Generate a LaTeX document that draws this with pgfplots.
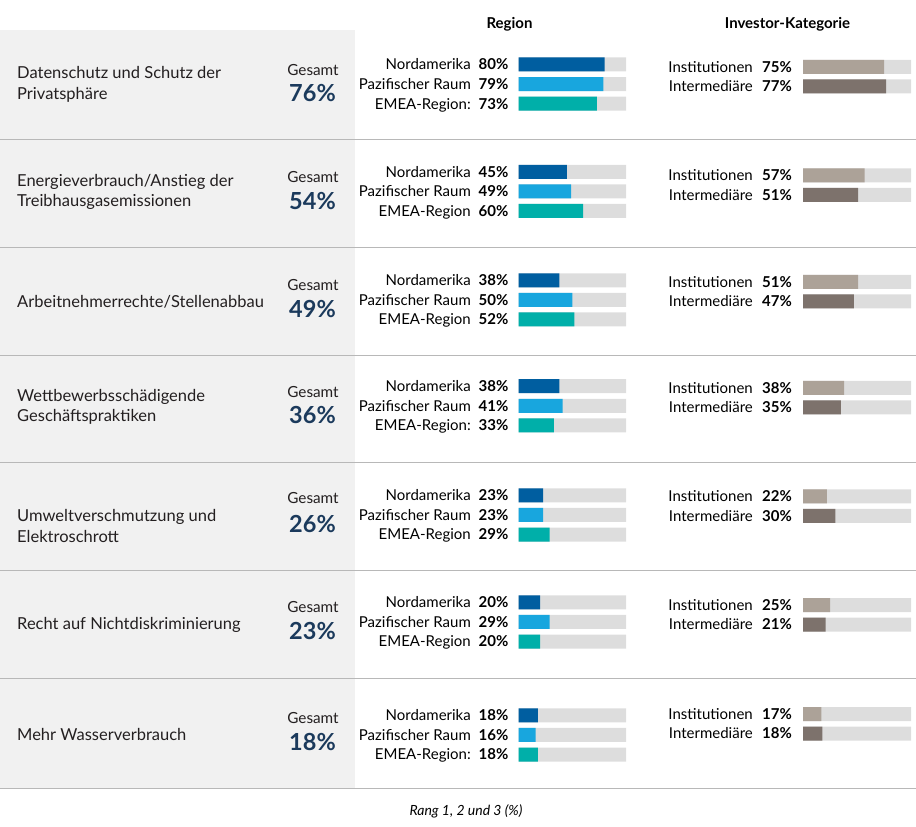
\documentclass[border=0pt]{standalone}
\usepackage{pgfplots}
\pgfplotsset{compat=1.18}
\usepackage{fontspec}
\setmainfont{Lato}
\definecolor{cNA}{HTML}{005EA0}
\definecolor{cPA}{HTML}{18A6DE}
\definecolor{cEM}{HTML}{00AFA9}
\definecolor{cIN}{HTML}{ACA298}
\definecolor{cIM}{HTML}{7D726C}
\definecolor{bargray}{HTML}{DDDDDD}
\definecolor{panel}{HTML}{F1F1F1}
\definecolor{sepcol}{HTML}{B8B8B8}
\definecolor{navy}{HTML}{1B3A5C}
\definecolor{titlecol}{HTML}{231F20}

\tikzset{
 lbl/.style={anchor=base east, inner sep=0pt, font=\fontsize{15bp}{18bp}\selectfont, text=black},
 pct/.style={anchor=base east, inner sep=0pt, font=\fontsize{15bp}{18bp}\selectfont\bfseries, text=black},
}

\newcommand\regblock[5]{%
\node[lbl] at (471,{827-(#1)-5.5}) {Nordamerika};
\node[pct] at (508.5,{827-(#1)-5.5}) {#2\%};
\node[lbl] at (471,{827-(#1)-25.1}) {Pazifischer Raum};
\node[pct] at (508.5,{827-(#1)-25.1}) {#3\%};
\node[lbl] at (471,{827-(#1)-44.7}) {#5};
\node[pct] at (508.5,{827-(#1)-44.7}) {#4\%};}

\newcommand\invblock[3]{%
\node[lbl] at (753,{827-(#1)-5.5}) {Institutionen};
\node[pct] at (792,{827-(#1)-5.5}) {#2\%};
\node[lbl] at (753,{827-(#1)-25}) {Intermediäre};
\node[pct] at (792,{827-(#1)-25}) {#3\%};}

\newcommand\rowblock[5]{%
\node[anchor=west, align=left, inner sep=0pt, font=\fontsize{16.5bp}{20.5bp}\selectfont, text=titlecol] at (17,{827-(#1)}) {#2};
\node[anchor=base, inner sep=0pt, font=\fontsize{15.3bp}{18bp}\selectfont, text=titlecol] at (313,{827-(#3)-5.5}) {Gesamt};
\node[anchor=base, inner sep=0pt, font=\fontsize{23.5bp}{27bp}\selectfont\bfseries, text=navy] at (312.5,{827-(#4)-8.5}) {#5\%};}

\begin{document}
\begin{tikzpicture}[x=1bp,y=1bp]
% panel and separators
\fill[panel] (0,{827-788}) rectangle (355.3,{827-30.5});
\foreach \s in {139.3,247.3,355.3,462.5,570.5,678.5,788.3}{
  \draw[sepcol, line width=1.5bp] (0,{827-\s}) -- (916,{827-\s});
}
% headers
\node[anchor=base, inner sep=0pt, font=\fontsize{15bp}{18bp}\selectfont\bfseries] at (509.5,{827-29}) {Region};
\node[anchor=base, inner sep=0pt, font=\fontsize{15bp}{18bp}\selectfont\bfseries] at (787.5,{827-29}) {Investor-Kategorie};
% footer
\node[anchor=base, inner sep=0pt, font=\fontsize{14bp}{17bp}\selectfont\itshape] at (466,{827-816}) {Rang 1, 2 und 3 (\%)};

% rows
\rowblock{84.5}{Datenschutz und Schutz der\\Privatsphäre}{70}{93}{76}
\rowblock{192}{Energieverbrauch/Anstieg der\\Treibhausgasemissionen}{177}{201}{54}
\rowblock{302}{Arbeitnehmerrechte/Stellenabbau}{285}{309}{49}
\rowblock{407}{Wettbewerbsschädigende\\Geschäftspraktiken}{392}{415}{36}
\rowblock{526}{Umweltverschmutzung und\\Elektroschrott}{498}{524}{26}
\rowblock{625}{Recht auf Nichtdiskriminierung}{607}{631}{23}
\rowblock{734}{Mehr Wasserverbrauch}{718}{742}{18}

\regblock{64.5}{80}{79}{73}{EMEA-Region:}
\regblock{171.8}{45}{49}{60}{EMEA-Region}
\regblock{280.3}{38}{50}{52}{EMEA-Region}
\regblock{386.2}{38}{41}{33}{EMEA-Region:}
\regblock{495.3}{23}{23}{29}{EMEA-Region}
\regblock{602.3}{20}{29}{20}{EMEA-Region}
\regblock{715.3}{18}{16}{18}{EMEA-Region:}

\invblock{67}{75}{77}
\invblock{175.4}{57}{51}
\invblock{282}{51}{47}
\invblock{387.9}{38}{35}
\invblock{496.4}{22}{30}
\invblock{605}{25}{21}
\invblock{714}{17}{18}

% region bars
\begin{axis}[at={(518.5bp,0bp)}, anchor=south west, width=107.5bp, height=827bp, scale only axis,
  xmin=0, xmax=100, ymin=0, ymax=827, y dir=reverse, hide axis, clip=false]
\addplot[xbar, bar width=14bp, bar shift=0pt, fill=bargray, draw=none] coordinates {
 (100,64.5) (100,84.1) (100,103.7)
 (100,171.8) (100,191.4) (100,211.0)
 (100,280.3) (100,299.9) (100,319.5)
 (100,386.2) (100,405.8) (100,425.4)
 (100,495.3) (100,514.9) (100,534.5)
 (100,602.3) (100,621.9) (100,641.5)
 (100,715.3) (100,734.9) (100,754.5)};
\addplot[xbar, bar width=14bp, bar shift=0pt, fill=cNA, draw=none] coordinates {
 (80,64.5) (45,171.8) (38,280.3) (38,386.2) (23,495.3) (20,602.3) (18,715.3)};
\addplot[xbar, bar width=14bp, bar shift=0pt, fill=cPA, draw=none] coordinates {
 (79,84.1) (49,191.4) (50,299.9) (41,405.8) (23,514.9) (29,621.9) (16,734.9)};
\addplot[xbar, bar width=14bp, bar shift=0pt, fill=cEM, draw=none] coordinates {
 (73,103.7) (60,211.0) (52,319.5) (33,425.4) (29,534.5) (20,641.5) (18,754.5)};
\end{axis}

% investor bars
\begin{axis}[at={(803bp,0bp)}, anchor=south west, width=108bp, height=827bp, scale only axis,
  xmin=0, xmax=100, ymin=0, ymax=827, y dir=reverse, hide axis, clip=false]
\addplot[xbar, bar width=14bp, bar shift=0pt, fill=bargray, draw=none] coordinates {
 (100,67) (100,86.5)
 (100,175.4) (100,194.9)
 (100,282) (100,301.5)
 (100,387.9) (100,407.4)
 (100,496.4) (100,515.9)
 (100,605) (100,624.5)
 (100,714) (100,733.5)};
\addplot[xbar, bar width=14bp, bar shift=0pt, fill=cIN, draw=none] coordinates {
 (75,67) (57,175.4) (51,282) (38,387.9) (22,496.4) (25,605) (17,714)};
\addplot[xbar, bar width=14bp, bar shift=0pt, fill=cIM, draw=none] coordinates {
 (77,86.5) (51,194.9) (47,301.5) (35,407.4) (30,515.9) (21,624.5) (18,733.5)};
\end{axis}

\pgfresetboundingbox
\path[use as bounding box] (0,0) rectangle (916,827);
\end{tikzpicture}
\end{document}
